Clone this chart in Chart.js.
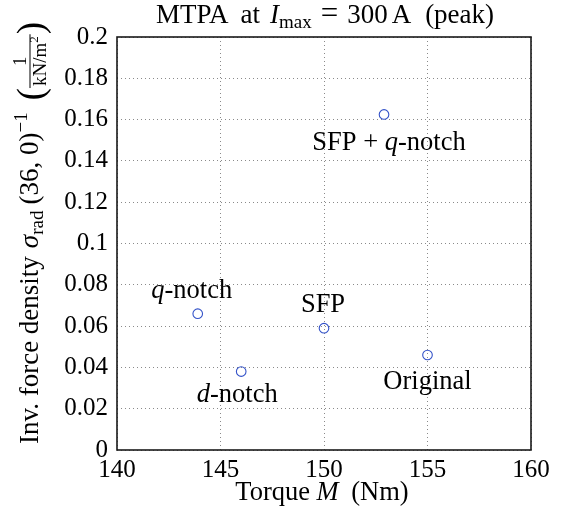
<!DOCTYPE html>
<html>
<head>
<meta charset="utf-8">
<script src="https://cdn.jsdelivr.net/npm/chart.js@4.4.0/dist/chart.umd.min.js"></script>
<style>
  html, body { margin: 0; padding: 0; background: #fff; }
  #wrap { width: 573px; height: 510px; }
</style>
</head>
<body>
<div id="wrap"><canvas id="chart" width="573" height="510"></canvas></div>
<script>
// ==================== Data ====================
const designNames = ['q-notch', 'd-notch', 'SFP', 'SFP + q-notch', 'Original'];
const torqueNm = [143.9, 146.0, 150.0, 152.9, 155.0];
const invForceDensity = [0.066, 0.038, 0.059, 0.1625, 0.046];
const xTicks = [140, 145, 150, 155, 160];
const yTicks = [0, 0.02, 0.04, 0.06, 0.08, 0.1, 0.12, 0.14, 0.16, 0.18, 0.2];

// label placement relative to its marker (px)
const labelOffsets = [[-6, -23], [-4, 24], [-1, -23], [5, 29], [0, 27]];

const SERIF = "'Liberation Serif', 'Times New Roman', serif";

function fontOf(r) {
    return (r.italic ? 'italic ' : '') + (r.size || 26) + 'px ' + SERIF;
}
function runsWidth(ctx, runs) {
    let w = 0;
    runs.forEach(r => { ctx.font = fontOf(r); w += ctx.measureText(r.text).width + (r.gap || 0); });
    return w;
}
function drawRuns(ctx, runs, x, y) {
    runs.forEach(r => {
        ctx.font = fontOf(r);
        ctx.fillText(r.text, x, y + (r.dy || 0));
        x += ctx.measureText(r.text).width + (r.gap || 0);
    });
    return x;
}
// q / d before a dash are math italic
function labelRuns(name) {
    return name.split(/([qd])(?=-)/).filter(s => s).map(s => ({ text: s, italic: /^[qd]$/.test(s), size: 26.5 }));
}

const annotatePlugin = {
    id: 'annotate',
    afterDatasetsDraw(chart) {
        const ctx = chart.ctx;
        const xs = chart.scales.x, ys = chart.scales.y;
        ctx.save();
        ctx.fillStyle = '#000';
        ctx.textBaseline = 'middle';
        designNames.forEach((name, i) => {
            const runs = labelRuns(name);
            const w = runsWidth(ctx, runs);
            const cx = xs.getPixelForValue(torqueNm[i]) + labelOffsets[i][0];
            const cy = ys.getPixelForValue(invForceDensity[i]) + labelOffsets[i][1];
            drawRuns(ctx, runs, cx - w / 2, cy);
        });
        ctx.restore();
    },
    afterDraw(chart) {
        const ctx = chart.ctx;
        const a = chart.chartArea;
        ctx.save();
        // box
        ctx.strokeStyle = '#1a1a1a';
        ctx.lineWidth = 1.6;
        ctx.strokeRect(a.left, a.top, a.right - a.left, a.bottom - a.top);

        ctx.fillStyle = '#000';
        ctx.textBaseline = 'alphabetic';

        // title
        const title = [
            { text: 'MTPA', size: 27, gap: 12 },
            { text: 'at', size: 27, gap: 10 },
            { text: 'I', size: 27, italic: true },
            { text: 'max', size: 19, dy: 5, gap: 9 },
            { text: '=', size: 31, gap: 9 },
            { text: '300', size: 27, gap: 4 },
            { text: 'A', size: 27, gap: 14 },
            { text: '(peak)', size: 27 }
        ];
        drawRuns(ctx, title, 325 - runsWidth(ctx, title) / 2, 23);

        // x title
        const xt = [
            { text: 'Torque ', size: 26.5 },
            { text: 'M', size: 26.5, italic: true, gap: 6 },
            { text: ' (Nm)', size: 26.5 }
        ];
        drawRuns(ctx, xt, 322 - runsWidth(ctx, xt) / 2, 500);

        // y title (rotated)
        const yt = [
            { text: 'Inv. force density', size: 27, gap: 8 },
            { text: 'σ', size: 27, italic: true },
            { text: 'rad', size: 19, dy: 5, gap: 6 },
            { text: '(36, 0)', size: 27 },
            { text: '−1', size: 19, dy: -11, gap: 12 }
        ];
        const paren = { size: 37 };
        ctx.font = fontOf(paren);
        const pw = ctx.measureText('(').width;
        const den = [{ text: 'kN/m', size: 19 }, { text: '2', size: 13, dy: -8 }];
        const denW = runsWidth(ctx, den);
        const fracW = denW + 4;
        const total = runsWidth(ctx, yt) + pw * 2 + fracW;

        ctx.translate(38, 233);
        ctx.rotate(-Math.PI / 2);
        let x = drawRuns(ctx, yt, -total / 2, 0);
        ctx.font = fontOf(paren);
        ctx.fillText('(', x, 5);
        x += pw;
        const barY = -8;
        ctx.fillRect(x, barY - 0.5, fracW, 1);
        ctx.font = fontOf({ size: 19 });
        ctx.textAlign = 'center';
        ctx.fillText('1', x + fracW / 2, barY - 4);
        ctx.textAlign = 'left';
        drawRuns(ctx, den, x + 2, barY + 16);
        x += fracW;
        ctx.font = fontOf(paren);
        ctx.fillText(')', x, 5);
        ctx.restore();
    }
};

const gridStyle = { color: '#8a8a8a', lineWidth: 1, drawTicks: false };
const tickFont = { family: SERIF, size: 25 };

new Chart(document.getElementById('chart').getContext('2d'), {
    type: 'scatter',
    data: {
        datasets: [{
            data: torqueNm.map((t, i) => ({ x: t, y: invForceDensity[i] })),
            pointStyle: 'circle',
            pointRadius: 4.8,
            borderColor: '#3352c8',
            backgroundColor: 'rgba(0,0,0,0)',
            borderWidth: 1.1
        }]
    },
    options: {
        responsive: false,
        animation: false,
        layout: { padding: { top: 37, right: 42, left: 0, bottom: 0 } },
        plugins: {
            legend: { display: false },
            tooltip: { enabled: false },
            title: { display: false }
        },
        scales: {
            x: {
                type: 'linear',
                min: 140,
                max: 160,
                afterBuildTicks: s => { s.ticks = xTicks.map(v => ({ value: v })); },
                afterFit: s => { s.height = 60; },
                grid: gridStyle,
                border: { display: false, dash: [1, 3] },
                ticks: { font: tickFont, color: '#000', padding: 5, maxRotation: 0 }
            },
            y: {
                type: 'linear',
                min: 0,
                max: 0.2,
                afterBuildTicks: s => { s.ticks = yTicks.map(v => ({ value: v })); },
                afterFit: s => { s.width = 117; },
                grid: gridStyle,
                border: { display: false, dash: [1, 3] },
                ticks: {
                    font: tickFont,
                    color: '#000',
                    padding: 9,
                    callback: v => String(Number(v.toFixed(2)))
                }
            }
        }
    },
    plugins: [annotatePlugin]
});
</script>
</body>
</html>
